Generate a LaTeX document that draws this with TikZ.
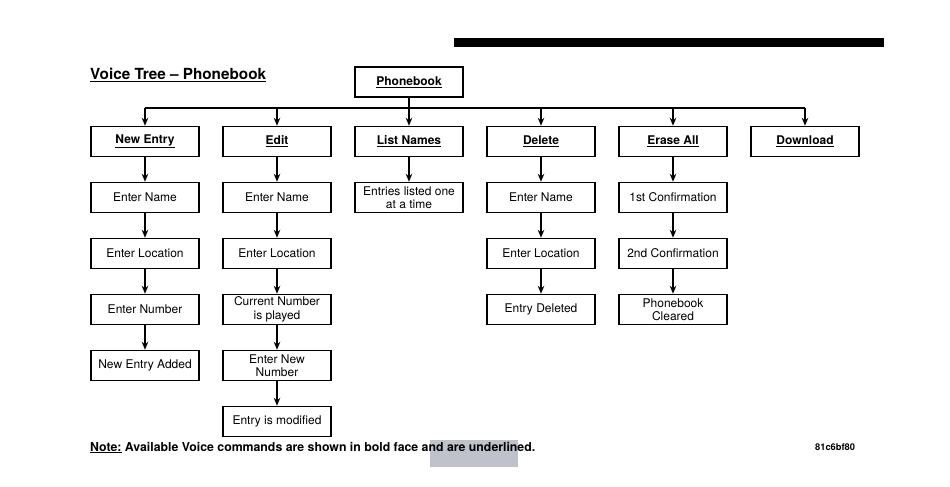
\documentclass[tikz,border=0pt]{standalone}
\usepackage{fontspec}
\setmainfont{TeX Gyre Heros}
\usetikzlibrary{arrows.meta, positioning}
\definecolor{footergray}{RGB}{192,194,203}

\begin{document}
\begin{tikzpicture}[
    x=1pt, y=-1pt,
    node distance=24.5pt and 22.5pt,
    every node/.style={font=\fontsize{12}{13.5}\selectfont},
    prompt/.style={rectangle, minimum width=108pt, minimum height=30pt, inner sep=1.5pt,
                   align=center, draw=black, fill=white, line width=1.5pt},
    command/.style={prompt, font=\fontsize{12}{13.5}\selectfont\bfseries},
    arrow/.style={-{Stealth[length=8pt,width=6.5pt]}, line width=1.5pt}
]
\useasboundingbox (0,0) rectangle (950,487);

% Page decoration
\fill[black] (454,38) rectangle (884,47);
\fill[footergray] (430,440) rectangle (518,467);

% Title
\node (title) [anchor=base west, inner sep=0pt, font=\fontsize{15.3}{17}\selectfont\bfseries]
    at (90,80) {\underline{Voice Tree -- Phonebook}};

% Root
\node (root) [command] at (409,82) {\underline{Phonebook}};

% Level 1
\node (newentry) [command] at (145,141.5) {\underline{New Entry}};
\node (edit) [command, right=of newentry] {\underline{Edit}};
\node (listnames) [command, right=of edit] {\underline{List Names}};
\node (delete) [command, right=of listnames] {\underline{Delete}};
\node (eraseall) [command, right=of delete] {\underline{Erase All}};
\node (download) [command, right=of eraseall] {\underline{Download}};

% New Entry
\node (ne1) [prompt, below=of newentry] {Enter Name};
\node (ne2) [prompt, below=of ne1] {Enter Location};
\node (ne3) [prompt, below=of ne2] {Enter Number};
\node (ne4) [prompt, below=of ne3] {New Entry Added};

% Edit
\node (ed1) [prompt, below=of edit] {Enter Name};
\node (ed2) [prompt, below=of ed1] {Enter Location};
\node (ed3) [prompt, below=of ed2] {Current Number\\is played};
\node (ed4) [prompt, below=of ed3] {Enter New\\Number};
\node (ed5) [prompt, below=of ed4] {Entry is modified};

% List Names
\node (ln1) [prompt, below=of listnames] {Entries listed one\\at a time};

% Delete
\node (de1) [prompt, below=of delete] {Enter Name};
\node (de2) [prompt, below=of de1] {Enter Location};
\node (de3) [prompt, below=of de2] {Entry Deleted};

% Erase All
\node (ea1) [prompt, below=of eraseall] {1st Confirmation};
\node (ea2) [prompt, below=of ea1] {2nd Confirmation};
\node (ea3) [prompt, below=of ea2] {Phonebook\\Cleared};

% Bus
\coordinate (bus) at (409,108);
\draw [line width=1.5pt] (root) -- (bus);
\draw [line width=1.5pt] (newentry.north |- bus) -- (download.north |- bus);
\foreach \n in {newentry, edit, listnames, delete, eraseall, download}
    \draw [arrow] (\n.north |- bus) -- (\n);

% Arrows
\draw [arrow] (newentry) -- (ne1);
\draw [arrow] (ne1) -- (ne2);
\draw [arrow] (ne2) -- (ne3);
\draw [arrow] (ne3) -- (ne4);

\draw [arrow] (edit) -- (ed1);
\draw [arrow] (ed1) -- (ed2);
\draw [arrow] (ed2) -- (ed3);
\draw [arrow] (ed3) -- (ed4);
\draw [arrow] (ed4) -- (ed5);

\draw [arrow] (listnames) -- (ln1);

\draw [arrow] (delete) -- (de1);
\draw [arrow] (de1) -- (de2);
\draw [arrow] (de2) -- (de3);

\draw [arrow] (eraseall) -- (ea1);
\draw [arrow] (ea1) -- (ea2);
\draw [arrow] (ea2) -- (ea3);

% Footer
\node (note) [anchor=base west, inner sep=0pt, font=\fontsize{12.3}{14}\selectfont\bfseries]
    at (90,451) {\underline{Note:} Available Voice commands are shown in bold face and are underlined.};
\node (code) [anchor=base west, inner sep=0pt, font=\fontsize{9.3}{11}\selectfont\bfseries]
    at (815,450) {81c6bf80};

\end{tikzpicture}
\end{document}
